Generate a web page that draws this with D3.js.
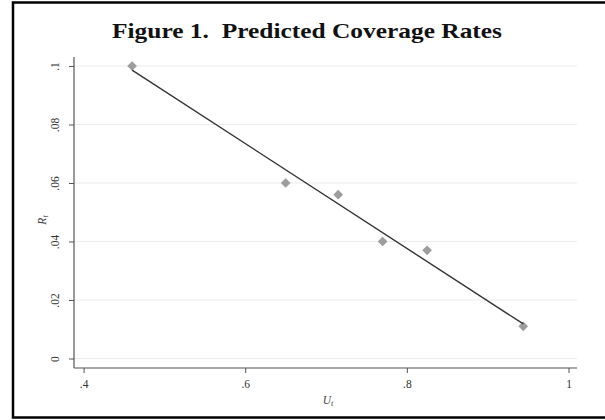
<!DOCTYPE html>
<html><head><meta charset="utf-8">
<script src="https://cdn.jsdelivr.net/npm/d3@7"></script>
<style>html,body{margin:0;padding:0;background:#fff;}</style>
</head><body>
<svg id="c" width="605" height="420"></svg>
<script>
const uValues = [0.460, 0.650, 0.715, 0.770, 0.825, 0.944];
const rValues = [0.100, 0.060, 0.056, 0.040, 0.037, 0.011];
const xTicks = [0.4, 0.6, 0.8, 1.0];
const yTicks = [0, 0.02, 0.04, 0.06, 0.08, 0.1];
const fmt = v => (v === 0 ? "0" : v === 1 ? "1" : String(v).replace(/^0/, ""));

const svg = d3.select("#c");
svg.append("rect").attr("x",13).attr("y",2.5).attr("width",600).attr("height",415)
  .attr("fill","#fff").attr("stroke","#000").attr("stroke-width",2.5);

svg.append("text").attr("x",307).attr("y",37.5).attr("text-anchor","middle")
  .style("white-space","pre")
  .attr("font-family","'Liberation Serif','DejaVu Serif',serif").attr("font-weight","bold")
  .attr("font-size",21.5).attr("fill","#111")
  .attr("textLength",390).attr("lengthAdjust","spacingAndGlyphs")
  .text("Figure 1.  Predicted Coverage Rates");

const x = d3.scaleLinear().domain([0.4,1.0]).range([83.6,568.5]);
const y = d3.scaleLinear().domain([0,0.1]).range([358.5,66]);
const pLeft = 74, pRight = 577, pBottom = 368, pTop = 57;

// gridlines
svg.append("g").selectAll("line").data(yTicks).join("line")
  .attr("x1",pLeft).attr("x2",pRight).attr("y1",d=>y(d)).attr("y2",d=>y(d))
  .attr("stroke","#ececec").attr("stroke-width",1.2);

// y axis
const ya = svg.append("g").attr("transform",`translate(${pLeft},0)`)
  .call(d3.axisLeft(y).tickValues(yTicks).tickFormat(fmt).tickSize(5));
ya.select(".domain").attr("d",`M0,${pTop}V${pBottom}`).attr("stroke","#555").attr("stroke-width",1.2);
ya.selectAll(".tick line").attr("stroke","#555");
ya.selectAll(".tick text")
  .attr("x",0).attr("y",0).attr("dy","0.35em")
  .attr("transform","translate(-19,0) rotate(-90)").attr("text-anchor","middle")
  .attr("font-family","'Liberation Serif',serif").attr("font-size",11.5).attr("fill","#333");

// x axis
const xa = svg.append("g").attr("transform",`translate(0,${pBottom})`)
  .call(d3.axisBottom(x).tickValues(xTicks).tickFormat(fmt).tickSize(5).tickPadding(7));
xa.select(".domain").attr("d",`M${pLeft},0H${pRight}`).attr("stroke","#555").attr("stroke-width",1.2);
xa.selectAll(".tick line").attr("stroke","#555");
xa.selectAll(".tick text").attr("font-family","'Liberation Serif',serif")
  .attr("font-size",11.5).attr("fill","#333");

// axis titles
const yl = svg.append("text").attr("transform","translate(46,220) rotate(-90)")
  .attr("text-anchor","middle").attr("font-family","'Liberation Serif',serif")
  .attr("font-style","italic").attr("font-size",11.5).attr("fill","#444");
yl.append("tspan").text("R");
yl.append("tspan").attr("font-size",8).attr("dy",2).text("t");
const xl = svg.append("text").attr("x",328).attr("y",404)
  .attr("text-anchor","middle").attr("font-family","'Liberation Serif',serif")
  .attr("font-style","italic").attr("font-size",11.5).attr("fill","#444");
xl.append("tspan").text("U");
xl.append("tspan").attr("font-size",8).attr("dy",2).text("t");

// markers
const pts = uValues.map((u,i)=>({u, r:rValues[i]}));
svg.append("g").selectAll("path").data(pts).join("path")
  .attr("d", d3.symbol(d3.symbolDiamond2, 60))
  .attr("transform", d=>`translate(${x(d.u)},${y(d.r)})`)
  .attr("fill","#9d9d9d");

// linear fit
const mx = d3.mean(uValues), my = d3.mean(rValues);
const sxy = d3.sum(pts, d=>(d.u-mx)*(d.r-my)), sxx = d3.sum(pts, d=>(d.u-mx)**2);
const b = sxy/sxx, a = my - b*mx;
const ext = d3.extent(uValues);
svg.append("path").datum(ext)
  .attr("d", d3.line().x(d=>x(d)).y(d=>y(a+b*d)))
  .attr("stroke","#333").attr("stroke-width",1.4).attr("fill","none");
</script>
</body></html>
